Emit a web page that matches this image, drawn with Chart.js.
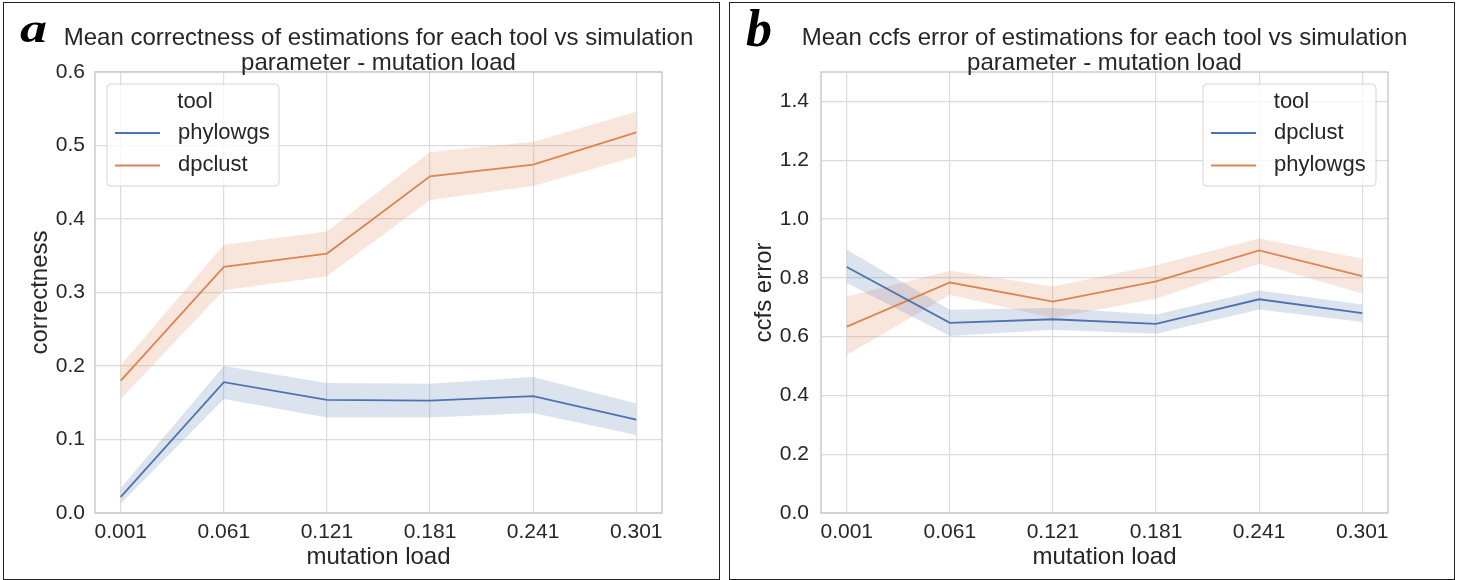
<!DOCTYPE html>
<html>
<head>
<meta charset="utf-8">
<script src="https://cdn.jsdelivr.net/npm/chart.js@4.4.1/dist/chart.umd.min.js"></script>
<style>
  body { margin: 0; background: #fff; width: 1459px; height: 580px; position: relative; overflow: hidden; }
  .panel { position: absolute; box-sizing: border-box; border: 1.5px solid #222; }
  canvas { position: absolute; top: 0; }
</style>
</head>
<body>
<div class="panel" style="left:3px; top:2px; width:716.5px; height:577.5px;"></div>
<div class="panel" style="left:728.8px; top:2px; width:726.5px; height:577.5px;"></div>
<canvas id="correctness-chart" style="left:0px; width:724px; height:580px;" width="724" height="580"></canvas>
<canvas id="ccfs-chart" style="left:724px; width:735px; height:580px;" width="735" height="580"></canvas>
<script>
// Simulation parameter on the x axis
const mutationLoads = [0.001, 0.061, 0.121, 0.181, 0.241, 0.301];

// Mean correctness per tool, with the lower / upper edge of the 95% band
const correctnessPhylowgs     = [0.022, 0.178, 0.154, 0.153, 0.159, 0.127];
const correctnessPhylowgsLow  = [0.013, 0.155, 0.130, 0.130, 0.136, 0.106];
const correctnessPhylowgsHigh = [0.034, 0.200, 0.177, 0.176, 0.185, 0.149];
const correctnessDpclust      = [0.180, 0.335, 0.353, 0.458, 0.474, 0.518];
const correctnessDpclustLow   = [0.155, 0.303, 0.322, 0.426, 0.445, 0.485];
const correctnessDpclustHigh  = [0.201, 0.365, 0.383, 0.491, 0.505, 0.546];

// Mean ccfs error per tool, with the band edges
const ccfsDpclust       = [0.837, 0.647, 0.659, 0.643, 0.727, 0.680];
const ccfsDpclustLow    = [0.782, 0.602, 0.623, 0.610, 0.692, 0.650];
const ccfsDpclustHigh   = [0.895, 0.691, 0.697, 0.675, 0.757, 0.709];
const ccfsPhylowgs      = [0.634, 0.784, 0.719, 0.788, 0.893, 0.806];
const ccfsPhylowgsLow   = [0.537, 0.742, 0.663, 0.729, 0.848, 0.747];
const ccfsPhylowgsHigh  = [0.736, 0.824, 0.770, 0.843, 0.934, 0.865];

// seaborn "deep" palette, first two colours
const blue = "#4c72b0";
const orange = "#dd8452";
const blueBand = "rgba(76, 114, 176, 0.2)";
const orangeBand = "rgba(221, 132, 82, 0.2)";

const sans = "'Liberation Sans', Arial, sans-serif";
Chart.defaults.font.family = sans;
Chart.defaults.color = "#262626";

function toPoints(values) {
    return values.map((v, i) => ({ x: mutationLoads[i], y: v }));
}

// One tool = lower edge, upper edge filled down to it, then the mean line on top
function toolSeries(label, colour, bandColour, mean, low, high) {
    return [
        { label: label + " low", data: toPoints(low), borderWidth: 0, pointRadius: 0, fill: false, order: 1 },
        { label: label + " high", data: toPoints(high), borderWidth: 0, pointRadius: 0, fill: "-1", backgroundColor: bandColour, order: 1 },
        { label: label, data: toPoints(mean), borderColor: colour, borderWidth: 1.8, pointRadius: 0, fill: false, order: 0 }
    ];
}

function drawLegend(chart, box) {
    const ctx = chart.ctx;
    const entries = chart.data.datasets.filter(d => d.borderWidth > 0);
    ctx.save();
    ctx.beginPath();
    ctx.roundRect(box.x, box.y, box.w, box.h, 4);
    ctx.fillStyle = "rgba(255, 255, 255, 0.8)";
    ctx.fill();
    ctx.strokeStyle = "#d4d4d4";
    ctx.lineWidth = 1;
    ctx.stroke();

    ctx.font = "22px " + sans;
    ctx.fillStyle = "#262626";
    ctx.textBaseline = "middle";
    ctx.textAlign = "center";
    ctx.fillText("tool", box.x + box.w / 2 + 2, box.y + 18);

    entries.forEach((d, i) => {
        const y = box.y + 49 + i * 32.4;
        ctx.strokeStyle = d.borderColor;
        ctx.lineWidth = 2;
        ctx.beginPath();
        ctx.moveTo(box.x + 8, y);
        ctx.lineTo(box.x + 53, y);
        ctx.stroke();
        ctx.textAlign = "left";
        ctx.fillText(d.label, box.x + 71, y);
    });
    ctx.restore();
}

// Frame round the plot, heading, panel letter and the legend
const panelDecor = {
    id: "panelDecor",
    beforeDatasetsDraw(chart) {
        const { ctx, chartArea: a } = chart;
        ctx.save();
        ctx.strokeStyle = "#cccccc";
        ctx.lineWidth = 1.5;
        ctx.strokeRect(a.left, a.top, a.right - a.left, a.bottom - a.top);
        ctx.restore();
    },
    afterDraw(chart, args, opts) {
        const { ctx, chartArea: a } = chart;
        ctx.save();
        ctx.fillStyle = "#262626";
        ctx.font = "24px " + sans;
        ctx.textAlign = "center";
        ctx.textBaseline = "alphabetic";
        const cx = (a.left + a.right) / 2;
        opts.title.forEach((line, i) => ctx.fillText(line, cx, opts.titleY[i]));

        ctx.fillStyle = "#000";
        ctx.font = opts.letterFont;
        ctx.textAlign = "left";
        ctx.translate(opts.letterX, opts.letterY);
        ctx.scale(opts.letterStretch, 1);
        ctx.fillText(opts.letter, 0, 0);
        ctx.restore();

        drawLegend(chart, opts.legend);
    }
};

function makeChart(canvasId, datasets, setup) {
    return new Chart(canvasId, {
        type: "line",
        data: { datasets: datasets },
        plugins: [panelDecor],
        options: {
            responsive: false,
            animation: false,
            layout: { padding: { left: 0, top: 72, right: setup.padRight, bottom: 0 } },
            scales: {
                x: {
                    type: "linear",
                    min: -0.014,
                    max: 0.316,
                    afterBuildTicks: scale => { scale.ticks = mutationLoads.map(v => ({ value: v })); },
                    afterFit: scale => { scale.height = 67; },
                    ticks: { font: { size: 21 }, padding: 7, maxRotation: 0, callback: v => Number(v).toFixed(3) },
                    grid: { color: "#dcdcdc", lineWidth: 1.2, drawTicks: false },
                    border: { display: false },
                    title: { display: true, text: "mutation load", font: { size: 24 }, padding: { bottom: 8 } }
                },
                y: {
                    min: 0,
                    max: setup.yMax,
                    afterFit: scale => { scale.width = setup.yWidth; },
                    ticks: { stepSize: setup.yStep, includeBounds: false, font: { size: 21 }, padding: setup.yPad, callback: v => Number(v).toFixed(1) },
                    grid: { color: "#dcdcdc", lineWidth: 1.2, drawTicks: false },
                    border: { display: false },
                    title: { display: true, text: setup.yTitle, font: { size: 24 }, padding: { top: 26 } }
                }
            },
            plugins: {
                legend: { display: false },
                tooltip: { enabled: false },
                panelDecor: {
                    title: setup.title,
                    titleY: [45, 70],
                    letter: setup.letter,
                    letterFont: setup.letterFont,
                    letterX: setup.letterX,
                    letterY: setup.letterY,
                    letterStretch: setup.letterStretch,
                    legend: setup.legend
                }
            }
        }
    });
}

makeChart("correctness-chart",
    toolSeries("phylowgs", blue, blueBand, correctnessPhylowgs, correctnessPhylowgsLow, correctnessPhylowgsHigh)
        .concat(toolSeries("dpclust", orange, orangeBand, correctnessDpclust, correctnessDpclustLow, correctnessDpclustHigh)),
    {
        padRight: 62, yWidth: 95, yMax: 0.6, yStep: 0.1, yPad: 10,
        yTitle: "correctness",
        title: ["Mean correctness of estimations for each tool vs simulation", "parameter - mutation load"],
        letter: "a", letterFont: "bold italic 40px 'Liberation Serif', serif", letterX: 20, letterY: 42, letterStretch: 1.35,
        legend: { x: 107, y: 84, w: 172, h: 102 }
    });

makeChart("ccfs-chart",
    toolSeries("dpclust", blue, blueBand, ccfsDpclust, ccfsDpclustLow, ccfsDpclustHigh)
        .concat(toolSeries("phylowgs", orange, orangeBand, ccfsPhylowgs, ccfsPhylowgsLow, ccfsPhylowgsHigh)),
    {
        padRight: 71, yWidth: 97, yMax: 1.5, yStep: 0.2, yPad: 12,
        yTitle: "ccfs error",
        title: ["Mean ccfs error of estimations for each tool vs simulation", "parameter - mutation load"],
        letter: "b", letterFont: "bold italic 52px 'Liberation Serif', serif", letterX: 22, letterY: 46, letterStretch: 1,
        legend: { x: 479, y: 84, w: 173, h: 102 }
    });
</script>
</body>
</html>
